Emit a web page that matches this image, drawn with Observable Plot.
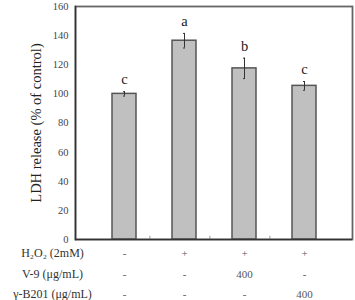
<!DOCTYPE html>
<html>
<head>
<meta charset="utf-8">
<script src="https://cdn.jsdelivr.net/npm/d3@7"></script>
<script src="https://cdn.jsdelivr.net/npm/@observablehq/plot@0.6"></script>
<style>
  html, body { margin: 0; padding: 0; background: #fff; }
  #chart svg { display: block; }
</style>
</head>
<body>
<div id="chart"></div>
<script>
// Treatment groups and LDH release (% of control), mean ± error
const groups = ["control", "H2O2", "H2O2+V-9", "H2O2+γ-B201"];
const means = [100, 136.5, 117.5, 105.5];
const errors = [1.5, 5, 7, 3];
const letters = ["c", "a", "b", "c"];

// Treatment table below the axis
const rowLabels = ["H\u2082O\u2082 (2mM)", "V-9 (\u03bcg/mL)", "\u03b3-B201 (\u03bcg/mL)"];
const rowH2O2 = ["-", "+", "+", "+"];
const rowV9 = ["-", "-", "400", "-"];
const rowB201 = ["-", "-", "-", "400"];

const yTicks = [0, 20, 40, 60, 80, 100, 120, 140, 160];

const data = groups.map((g, i) => ({
  group: g, mean: means[i], lo: means[i] - errors[i], hi: means[i] + errors[i], letter: letters[i],
  h2o2: rowH2O2[i], v9: rowV9[i], b201: rowB201[i]
}));

const serif = "'Liberation Serif', 'Times New Roman', serif";
const rowOffsets = [14, 35, 55];
const rowValues = ["h2o2", "v9", "b201"];

const marks = [
  Plot.barY(data, {x: "group", y: "mean", fill: "#c0c0c0", stroke: "#555", strokeWidth: 1.5}),
  Plot.ruleX(data, {x: "group", y1: "lo", y2: "hi", stroke: "#333", strokeWidth: 1}),
  Plot.tickY(data, {x: "group", y: "lo", stroke: "#333", strokeWidth: 1, insetLeft: 11, insetRight: 11}),
  Plot.tickY(data, {x: "group", y: "hi", stroke: "#333", strokeWidth: 1, insetLeft: 11, insetRight: 11}),
  Plot.text(data, {x: "group", y: "hi", text: "letter", dy: -12, fontSize: 14.5, fill: "#222", fontFamily: serif}),
  // small separators between the groups on the baseline
  Plot.ruleX(groups.slice(1), {x: d => d, y1: 0, y2: 2.2, dx: -34.6, stroke: "#999", strokeWidth: 1}),
  Plot.frame({stroke: "#666", strokeWidth: 1.8}),
  Plot.frame({anchor: "left", stroke: "#333", strokeWidth: 1.5}),
  Plot.ruleY([0], {stroke: "#333", strokeWidth: 1.5})
];

// treatment rows: symbols under each bar, row titles left of the first column
rowValues.forEach((key, r) => {
  marks.push(Plot.text(data, {
    x: "group", text: key, frameAnchor: "bottom", lineAnchor: "middle", dy: rowOffsets[r],
    fontSize: 11, fill: "#555", fontFamily: serif
  }));
  marks.push(Plot.text([rowLabels[r]], {
    x: () => groups[0], text: d => d, frameAnchor: "bottom", lineAnchor: "middle",
    dy: rowOffsets[r], dx: -72,
    textAnchor: "middle", fontSize: 12, fill: "#333", fontFamily: serif
  }));
});

const chart = Plot.plot({
  width: 355,
  height: 300,
  marginTop: 6,
  marginBottom: 61,
  marginLeft: 75,
  marginRight: 3,
  style: {fontFamily: serif, background: "#fff", overflow: "visible"},
  x: {domain: groups, padding: 0.6, axis: null},
  y: {domain: [0, 160]},
  marks: [
    Plot.axisY({ticks: yTicks, tickSize: 0, tickPadding: 7, fontSize: 10.5, fill: "#444", label: null}),
    // axis title only, larger than the tick labels
    Plot.axisY({
      ticks: [], label: "LDH release (% of control)", labelAnchor: "center",
      labelArrow: "none", labelOffset: 45, fontSize: 14.5, fill: "#222"
    }),
    ...marks
  ]
});

document.getElementById("chart").appendChild(chart);
</script>
</body>
</html>
